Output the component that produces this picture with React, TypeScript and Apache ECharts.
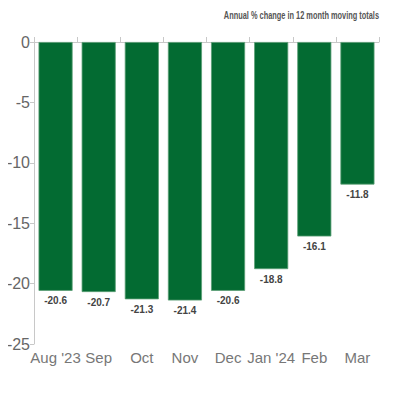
import { useEffect, useRef } from "react";
import * as echarts from "echarts";

const months = ["Aug '23", "Sep", "Oct", "Nov", "Dec", "Jan '24", "Feb", "Mar"];
const changes = [-20.6, -20.7, -21.3, -21.4, -20.6, -18.8, -16.1, -11.8];
const yTicks = { min: -25, max: 0, step: 5 };
const note = "Annual % change in 12 month moving totals";

const plain = "'Liberation Sans', Arial, sans-serif";

export default function App() {
  const ref = useRef<HTMLDivElement>(null);

  useEffect(() => {
    if (!ref.current) return;
    const chart = echarts.init(ref.current, undefined, { renderer: "svg" });
    chart.setOption({
      animation: false,
      // condensed note, squeezed horizontally since no narrow font is installed
      graphic: [
        {
          type: "text",
          x: 379,
          y: 16,
          scaleX: 0.74,
          style: {
            text: note,
            fontFamily: plain,
            fontSize: 10,
            fontWeight: "bold",
            fill: "#555",
            textAlign: "right",
            textVerticalAlign: "middle",
          },
        },
      ],
      grid: { left: 34, top: 42, width: 345, height: 302 },
      xAxis: [
        {
          type: "category",
          data: months,
          position: "top",
          axisLine: { lineStyle: { color: "#c8c8c8", width: 1 } },
          axisTick: { show: true, interval: 0, length: 5, lineStyle: { color: "#c8c8c8" } },
          axisLabel: { show: false },
        },
        {
          type: "category",
          data: months,
          position: "bottom",
          axisLine: { show: false },
          axisTick: { show: false },
          axisLabel: { interval: 0, fontFamily: plain, fontSize: 15, color: "#777", margin: 6 },
        },
      ],
      yAxis: {
        type: "value",
        min: yTicks.min,
        max: yTicks.max,
        interval: yTicks.step,
        axisLine: { show: true, lineStyle: { color: "#c8c8c8" } },
        axisTick: { show: true, length: 4, lineStyle: { color: "#c8c8c8" } },
        splitLine: { show: false },
        axisLabel: { fontFamily: plain, fontSize: 16, color: "#666", margin: 4 },
      },
      series: [
        {
          type: "bar",
          data: changes,
          barCategoryGap: "21%",
          itemStyle: { color: "#036b32", borderColor: "#5b9e75", borderWidth: 0.8 },
          label: {
            show: true,
            position: "bottom",
            distance: 5,
            fontFamily: plain,
            fontSize: 10,
            fontWeight: "bold",
            color: "#444",
          },
        },
      ],
    });
    return () => chart.dispose();
  }, []);

  return <div ref={ref} style={{ width: 400, height: 400, margin: -8 }} />;
}
